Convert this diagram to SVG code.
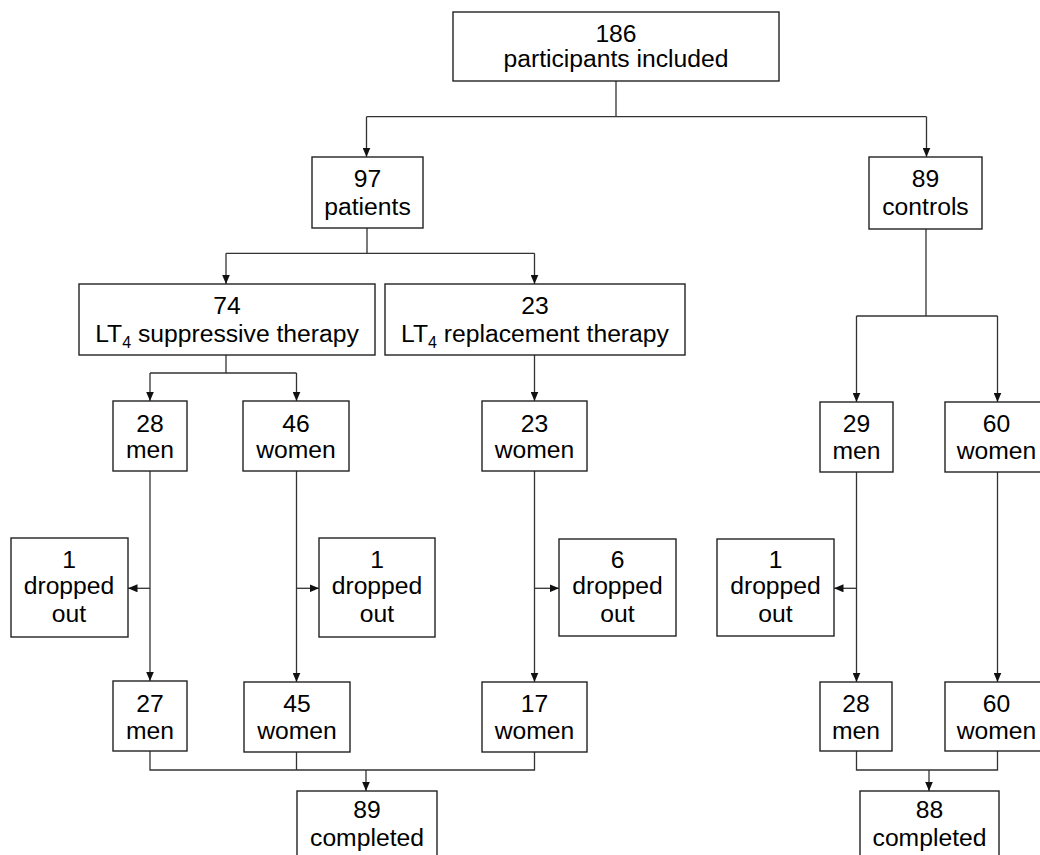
<svg xmlns="http://www.w3.org/2000/svg" width="1040" height="855" viewBox="0 0 1040 855">
<style>
.box{fill:#fff;stroke:#222;stroke-width:1.4}
.t{font-family:"Liberation Sans",Arial,sans-serif;font-size:24.7px;fill:#000;text-anchor:middle}
.sub{font-size:16px}
.ln{fill:none;stroke:#333;stroke-width:1.3}
.ar{marker-end:url(#ah)}
</style>
<defs>
<marker id="ah" markerUnits="userSpaceOnUse" markerWidth="10" markerHeight="8" refX="9.5" refY="4" orient="auto">
<path d="M0,0 L9.5,4 L0,8 z" fill="#111"/>
</marker>
</defs>
<rect width="1040" height="855" fill="#fff"/>
<g id="connectors">
<path class="ln" d="M616,81 V116.7 M366.5,116.7 H926.5"/>
<path class="ln ar" d="M366.5,116.7 V157"/>
<path class="ln ar" d="M926.5,116.7 V157"/>
<path class="ln" d="M367,228 V253.3 M226,253.3 H534.5"/>
<path class="ln ar" d="M226,253.3 V284"/>
<path class="ln ar" d="M534.5,253.3 V284"/>
<path class="ln" d="M226,355 V373 M150,373 H296.5"/>
<path class="ln ar" d="M150,373 V401"/>
<path class="ln ar" d="M296.5,373 V401"/>
<path class="ln ar" d="M534.5,355 V401"/>
<path class="ln" d="M926,229 V316 M856.5,316 H997.5"/>
<path class="ln ar" d="M856.5,316 V402"/>
<path class="ln ar" d="M997.5,316 V402"/>
<path class="ln ar" d="M150,471 V681"/>
<path class="ln ar" d="M150,588.3 H128"/>
<path class="ln ar" d="M296.5,471 V682"/>
<path class="ln ar" d="M296.5,588.3 H319"/>
<path class="ln ar" d="M534.5,471 V682"/>
<path class="ln ar" d="M534.5,588.3 H559"/>
<path class="ln ar" d="M856.5,472 V682"/>
<path class="ln ar" d="M856.5,588.3 H834"/>
<path class="ln ar" d="M997.5,472 V682"/>
<path class="ln" d="M150,751 V770 H534.5 V752 M296.5,752 V770"/>
<path class="ln ar" d="M366,770 V791"/>
<path class="ln" d="M856.5,751 V770 H997.5 V751"/>
<path class="ln ar" d="M929,770 V791"/>
</g>
<g id="n186"><rect class="box" x="453" y="12" width="326" height="69"/><text class="t" x="616" y="41.5">186</text><text class="t" x="616" y="67">participants included</text></g>
<g id="n97"><rect class="box" x="312" y="157" width="111" height="71"/><text class="t" x="367.5" y="187">97</text><text class="t" x="367.5" y="214.5">patients</text></g>
<g id="n89c"><rect class="box" x="869" y="157" width="113" height="72"/><text class="t" x="925.5" y="187">89</text><text class="t" x="925.5" y="214.5">controls</text></g>
<g id="n74"><rect class="box" x="79" y="284" width="296" height="71"/><text class="t" x="227" y="314.3">74</text><text class="t" x="227" y="342.3">LT<tspan class="sub" dy="6">4</tspan><tspan dy="-6"> suppressive therapy</tspan></text></g>
<g id="n23"><rect class="box" x="385" y="284" width="300" height="71"/><text class="t" x="535" y="314.3">23</text><text class="t" x="535" y="342.3">LT<tspan class="sub" dy="6">4</tspan><tspan dy="-6"> replacement therapy</tspan></text></g>
<g id="n28m"><rect class="box" x="113" y="401" width="74" height="70"/><text class="t" x="150" y="431.7">28</text><text class="t" x="150" y="458.3">men</text></g>
<g id="n46w"><rect class="box" x="243" y="401" width="106" height="70"/><text class="t" x="296" y="431.7">46</text><text class="t" x="296" y="458.3">women</text></g>
<g id="n23w"><rect class="box" x="482" y="401" width="105" height="70"/><text class="t" x="534.5" y="431.7">23</text><text class="t" x="534.5" y="458.3">women</text></g>
<g id="n29m"><rect class="box" x="820" y="402" width="73" height="70"/><text class="t" x="856.5" y="432">29</text><text class="t" x="856.5" y="459">men</text></g>
<g id="n60w"><rect class="box" x="945" y="402" width="105" height="70"/><text class="t" x="996.5" y="432">60</text><text class="t" x="996.5" y="459">women</text></g>
<g id="d1"><rect class="box" x="11" y="538" width="117" height="99"/><text class="t" x="69" y="568.3">1</text><text class="t" x="69" y="594">dropped</text><text class="t" x="69" y="621.7">out</text></g>
<g id="d2"><rect class="box" x="319" y="538" width="116" height="99"/><text class="t" x="377" y="568.3">1</text><text class="t" x="377" y="594">dropped</text><text class="t" x="377" y="621.7">out</text></g>
<g id="d3"><rect class="box" x="559" y="539" width="117" height="97"/><text class="t" x="617.5" y="568.3">6</text><text class="t" x="617.5" y="594">dropped</text><text class="t" x="617.5" y="621.7">out</text></g>
<g id="d4"><rect class="box" x="717" y="539" width="117" height="97"/><text class="t" x="775.5" y="568.3">1</text><text class="t" x="775.5" y="594">dropped</text><text class="t" x="775.5" y="621.7">out</text></g>
<g id="n27m"><rect class="box" x="113" y="681" width="74" height="70"/><text class="t" x="150" y="712">27</text><text class="t" x="150" y="738.5">men</text></g>
<g id="n45w"><rect class="box" x="244" y="682" width="106" height="70"/><text class="t" x="297" y="712">45</text><text class="t" x="297" y="738.5">women</text></g>
<g id="n17w"><rect class="box" x="482" y="682" width="105" height="70"/><text class="t" x="534.5" y="712">17</text><text class="t" x="534.5" y="738.5">women</text></g>
<g id="n28m2"><rect class="box" x="820" y="682" width="72" height="69"/><text class="t" x="856" y="712">28</text><text class="t" x="856" y="738.5">men</text></g>
<g id="n60w2"><rect class="box" x="945" y="682" width="105" height="69"/><text class="t" x="996.5" y="712">60</text><text class="t" x="996.5" y="738.5">women</text></g>
<g id="c89"><rect class="box" x="297" y="791" width="140" height="80"/><text class="t" x="367" y="818.3">89</text><text class="t" x="367" y="846">completed</text></g>
<g id="c88"><rect class="box" x="860" y="791" width="139" height="80"/><text class="t" x="929.5" y="818.3">88</text><text class="t" x="929.5" y="846">completed</text></g>
</svg>
